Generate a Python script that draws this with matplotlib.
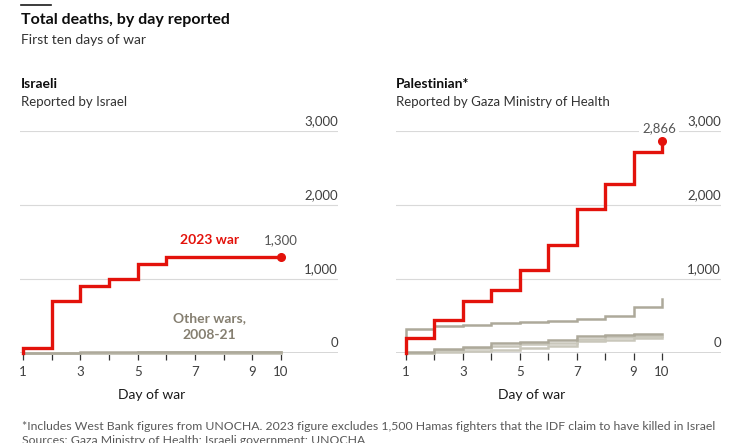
import matplotlib
matplotlib.use("Agg")
import matplotlib.pyplot as plt
from matplotlib.transforms import offset_copy

plt.rcParams['font.family'] = ['Lato', 'DejaVu Sans']

days = [1, 2, 3, 4, 5, 6, 7, 8, 9, 10]
xtick_labels = ["1", "", "3", "", "5", "", "7", "", "9", "10"]
yticks = [0, 1000, 2000, 3000]
ytick_labels = ["0", "1,000", "2,000", "3,000"]

# Israeli deaths
israel_2023 = [70, 700, 900, 1000, 1200, 1300, 1300, 1300, 1300, 1300]
israel_2008 = [3, 4, 5, 6, 8, 9, 10, 10, 10, 10]
israel_2012 = [0, 3, 3, 4, 5, 5, 6, 6, 6, 6]
israel_2014 = [0, 0, 0, 1, 1, 1, 1, 2, 2, 2]
israel_2021 = [2, 6, 7, 9, 10, 10, 11, 12, 12, 12]

# Palestinian deaths
pal_2023 = [200, 440, 707, 851, 1126, 1454, 1946, 2280, 2720, 2866]
pal_2008 = [324, 364, 378, 400, 414, 436, 455, 499, 617, 729]
pal_2014 = [20, 58, 85, 130, 152, 175, 229, 243, 252, 252]
pal_2021 = [5, 40, 70, 95, 128, 140, 190, 215, 225, 225]
pal_2012 = [0, 10, 25, 45, 65, 100, 160, 180, 200, 210]

RED = "#E3120B"
GRAY_D = "#ADA99A"
GRAY_L = "#C9C7BB"
GRID = "#D9D9D9"
TXT = "#3F3F3F"

W, H = 740, 443
fig = plt.figure(figsize=(7.4, 4.43), dpi=100)

def fx(px):
    return px / W

def fy(py):
    return 1 - py / H

y0, y3000 = 353, 131
axL = fig.add_axes([fx(20), fy(y0), fx(338 - 20), (y0 - y3000) / H])
axR = fig.add_axes([fx(396), fy(y0), fx(721 - 396), (y0 - y3000) / H])

def stepline(ax, vals, color, lw, z):
    ax.plot([days[0]] + days, [0] + vals, drawstyle='steps-post', color=color,
            lw=lw, zorder=z, solid_joinstyle='miter', clip_on=False)

def setup(ax, x_left_px, x_right_px, d1_px, d10_px):
    per = (d10_px - d1_px) / 9
    ax.set_xlim(1 - (d1_px - x_left_px) / per, 10 + (x_right_px - d10_px) / per)
    ax.set_ylim(0, 3000)
    for s in ax.spines.values():
        s.set_visible(False)
    ax.set_facecolor('none')
    tr = offset_copy(ax.get_yaxis_transform(), fig=fig, x=0, y=4, units='dots')
    for v, lab in zip(yticks, ytick_labels):
        if v > 0:
            ax.axhline(v, color=GRID, lw=0.8, zorder=1)
        ax.text(1.0, v, lab, transform=tr, ha='right',
                va='bottom', fontsize=9.5, color=TXT)
    ax.axhline(0, color="#333333", lw=1.0, zorder=2)
    ax.set_yticks([])
    ax.set_xticks(days)
    ax.set_xticklabels(xtick_labels)
    ax.tick_params(axis='x', length=5, width=0.9, color="#333333", labelsize=9.5,
                   labelcolor=TXT, pad=4)
    ax.set_xlabel("Day of war", fontsize=10, color="#1a1a1a", labelpad=8)

setup(axL, 20, 338, 23, 281)
setup(axR, 396, 721, 406, 662)
axR.xaxis.label.set_x((532 - 396) / (721 - 396))
axL.xaxis.label.set_x((152 - 20) / (338 - 20))

# left panel lines
for vals, c in [(israel_2008, GRAY_D), (israel_2012, GRAY_L), (israel_2014, GRAY_L), (israel_2021, GRAY_D)]:
    stepline(axL, vals, c, 1.8, 3)
stepline(axL, israel_2023, RED, 2.4, 5)
axL.plot(days[-1], israel_2023[-1], 'o', color=RED, ms=5.5, zorder=8, clip_on=False)
axL.text(days[-1], 1530, "1,300", ha='center', va='center',
         fontsize=9.5, color="#555555")
axL.text(7.5, 1530, "2023 war", ha='center', va='center',
         fontsize=10, color=RED, fontweight='bold')
axL.text(7.5, 360, "Other wars,\n2008-21", ha='center', va='center',
         fontsize=10, color="#857F70", fontweight='bold', linespacing=1.45)

# right panel lines
for vals, c in [(pal_2012, GRAY_L), (pal_2021, GRAY_L), (pal_2014, GRAY_D), (pal_2008, GRAY_D)]:
    stepline(axR, vals, c, 1.8, 3)
stepline(axR, pal_2023, RED, 2.4, 5)
axR.plot(days[-1], pal_2023[-1], 'o', color=RED, ms=5.5, zorder=8, clip_on=False)
axR.text(9.9, 3040, "2,866", ha='center', va='center', fontsize=9.5,
         color="#555555", zorder=7,
         bbox=dict(boxstyle='square,pad=0.25', fc='white', ec='none'))

# header texts
fig.add_artist(plt.Line2D([fx(21), fx(51)], [fy(5.3), fy(5.3)], color="#1a1a1a", lw=1.2))
fig.text(fx(21), fy(20), "Total deaths, by day reported", fontsize=11.5,
         fontweight='bold', color="#0d0d0d", va='center', ha='left')
fig.text(fx(21), fy(40), "First ten days of war", fontsize=10, color="#333333",
         va='center', ha='left')
fig.text(fx(21), fy(84), "Israeli", fontsize=10, fontweight='bold', color="#0d0d0d",
         va='center', ha='left')
fig.text(fx(21), fy(102), "Reported by Israel", fontsize=9.5, color="#333333",
         va='center', ha='left')
fig.text(fx(396), fy(84), "Palestinian*", fontsize=10, fontweight='bold',
         color="#0d0d0d", va='center', ha='left')
fig.text(fx(396), fy(102), "Reported by Gaza Ministry of Health", fontsize=9.5,
         color="#333333", va='center', ha='left')

fig.text(fx(22), fy(426), "*Includes West Bank figures from UNOCHA. 2023 figure excludes "
         "1,500 Hamas fighters that the IDF claim to have killed in Israel",
         fontsize=8.8, color="#595959", va='center', ha='left')
fig.text(fx(22), fy(441), "Sources: Gaza Ministry of Health; Israeli government; UNOCHA",
         fontsize=8.8, color="#595959", va='center', ha='left')

fig.savefig("out.png", dpi=100)
